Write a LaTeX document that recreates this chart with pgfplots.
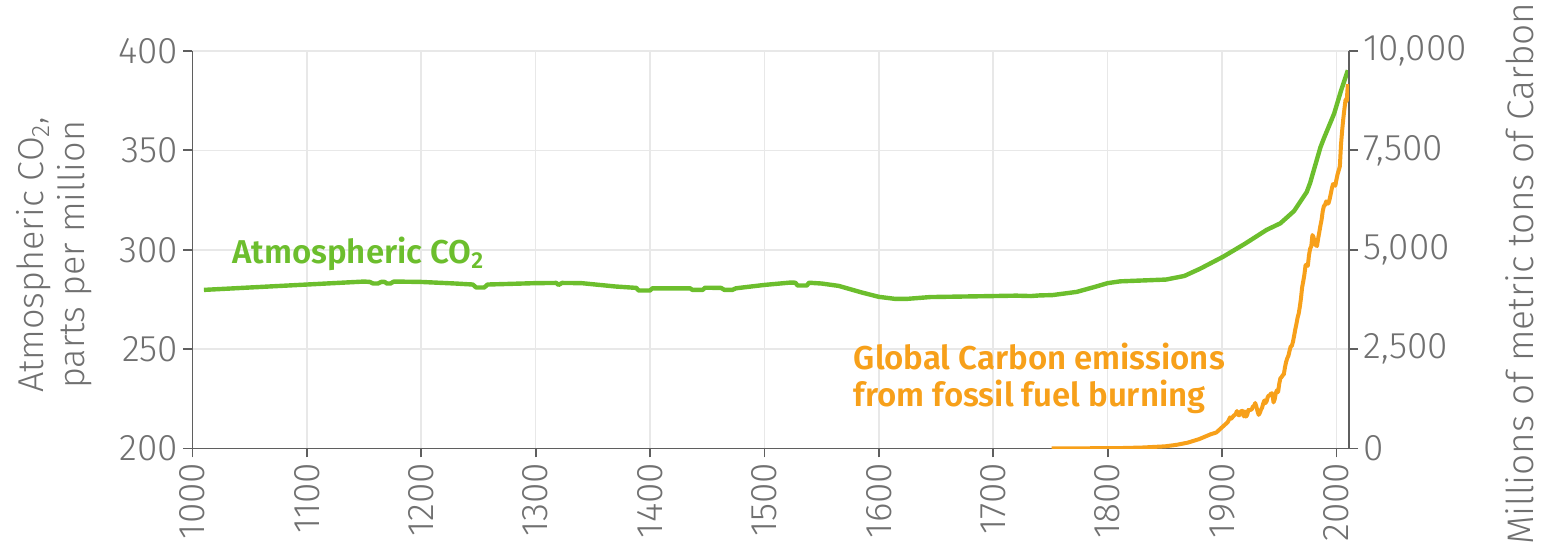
\documentclass[border=0pt]{standalone}
\usepackage{pgfplots}
\pgfplotsset{compat=1.18}
\usepackage{fontspec}
\setmainfont{Fira Sans}[UprightFont=* Light, BoldFont=* SemiBold]

\definecolor{co2green}{RGB}{108,190,45}
\definecolor{fuelorange}{RGB}{247,160,26}
\definecolor{tickgray}{RGB}{112,112,112}
\definecolor{axisgray}{RGB}{95,95,95}
\definecolor{gridgray}{RGB}{232,232,232}

\pgfplotsset{
  chartbase/.style={
    width=578.25pt, height=198.75pt, scale only axis,
    xmin=1000, xmax=2011,
    tick label style={font=\fontsize{18.5}{22}\selectfont, text=tickgray, inner sep=2.5pt},
    /pgf/number format/assume math mode=true,
    axis line style={-, axisgray, line width=0.9pt},
    major tick length=4.5pt,
    tick style={axisgray, line width=0.9pt},
    tick align=outside,
  }
}

\pgfplotstableread{
year ppm
1010 279.8
1050 281.0
1100 282.5
1150 284.0
1155 283.8
1158 283.0
1162 283.0
1165 283.8
1168 283.8
1170 283.0
1173 283.0
1176 284.0
1200 283.8
1230 283.0
1245 282.5
1248 281.0
1255 281.0
1258 282.5
1300 283.2
1318 283.3
1320 282.3
1323 283.3
1340 283.2
1370 281.5
1388 280.8
1390 279.5
1400 279.5
1402 280.6
1435 280.6
1437 279.8
1446 279.8
1448 280.9
1462 280.8
1465 279.8
1472 279.8
1475 280.6
1500 282.3
1523 283.5
1527 283.4
1529 282.0
1537 282.0
1539 283.4
1550 283.0
1565 281.8
1585 278.5
1600 276.3
1614 275.3
1625 275.3
1645 276.2
1700 276.7
1720 276.9
1733 276.7
1740 277.0
1752 277.2
1773 278.8
1790 281.5
1800 283.2
1811 284.1
1851 285.0
1867 286.8
1881 290.5
1901 296.5
1920 303.0
1939 310.0
1951 313.3
1963 319.5
1974 329.0
1977 333.6
1986 351.5
1989 356.0
1998 368.5
2004 380.0
2010 390.3
}\co

\pgfplotstableread{
year mtc
1751 3
1770 4
1790 7
1810 10
1830 24
1850 54
1860 91
1870 147
1880 236
1890 357
1895 402
1900 534
1905 663
1907 782
1908 750
1910 819
1912 868
1913 943
1914 850
1915 836
1916 906
1917 952
1918 940
1919 806
1920 932
1921 803
1922 845
1923 970
1924 963
1925 975
1926 983
1927 1062
1928 1065
1929 1145
1930 1053
1931 940
1932 847
1933 893
1934 973
1935 1027
1936 1130
1937 1209
1938 1142
1939 1192
1940 1299
1941 1334
1942 1342
1943 1391
1944 1383
1945 1160
1946 1238
1947 1392
1948 1469
1949 1419
1950 1630
1951 1767
1952 1795
1953 1841
1954 1865
1955 2042
1956 2177
1957 2270
1958 2330
1959 2454
1960 2569
1961 2580
1962 2686
1963 2833
1964 2995
1965 3130
1966 3288
1967 3393
1968 3566
1969 3780
1970 4053
1971 4208
1972 4376
1973 4614
1974 4623
1975 4596
1976 4864
1977 5026
1978 5087
1979 5369
1980 5315
1981 5152
1982 5113
1983 5094
1984 5280
1985 5439
1986 5607
1987 5752
1988 5965
1989 6097
1990 6127
1991 6217
1992 6164
1993 6162
1994 6266
1995 6398
1996 6542
1997 6651
1998 6643
1999 6610
2000 6765
2001 6900
2002 6996
2003 7100
2004 7650
2005 8000
2006 8300
2007 8550
2008 8780
2009 8740
2010 9167
}\fuel

\begin{document}
\begin{tikzpicture}
\useasboundingbox (-96.25pt,-50.75pt) rectangle (676.75pt,224.25pt);

\begin{axis}[chartbase,
  axis x line*=bottom, axis y line*=left,
  ymin=200, ymax=400, ytick={200,250,...,400},
  xtick={1000,1100,...,2000},
  xticklabel style={rotate=90, anchor=east},
  /pgf/number format/1000 sep={},
  xmajorgrids, ymajorgrids,
  grid style={gridgray, line width=0.8pt},
  clip=false,
]
\addplot[co2green, line width=2.2pt, line join=round] table[x=year, y=ppm] {\co};
\node[anchor=base west, inner sep=0pt, text=co2green, font=\fontsize{16.5}{19}\selectfont\bfseries]
  at (axis cs:1034.5,293.2) {Atmospheric CO\textsubscript{2}};
\node[anchor=base west, inner sep=0pt, text=fuelorange, font=\fontsize{16.5}{19}\selectfont\bfseries]
  at (axis cs:1577.8,239.5) {Global Carbon emissions};
\node[anchor=base west, inner sep=0pt, text=fuelorange, font=\fontsize{16.5}{19}\selectfont\bfseries]
  at (axis cs:1577.8,221.1) {from fossil fuel burning};
\node[xshift=-69pt, yshift=-2.5pt, rotate=90, align=center, text=tickgray,
  font=\fontsize{18}{20.5}\selectfont]
  at (rel axis cs:0,0.5) {Atmospheric CO\textsubscript{2},\\parts per million};
\node[xshift=85.5pt, yshift=-12pt, rotate=90, text=tickgray,
  font=\fontsize{18.5}{21}\selectfont]
  at (rel axis cs:1,0.5) {Millions of metric tons of Carbon};
\end{axis}

\begin{axis}[chartbase,
  axis x line=none, axis y line*=right,
  ymin=0, ymax=10000, ytick={0,2500,...,10000},
  scaled y ticks=false,
  /pgf/number format/1000 sep={,},
  yticklabel style={/pgf/number format/fixed},
]
\addplot[fuelorange, line width=2pt, line join=round] table[x=year, y=mtc] {\fuel};
\end{axis}
\end{tikzpicture}
\end{document}
